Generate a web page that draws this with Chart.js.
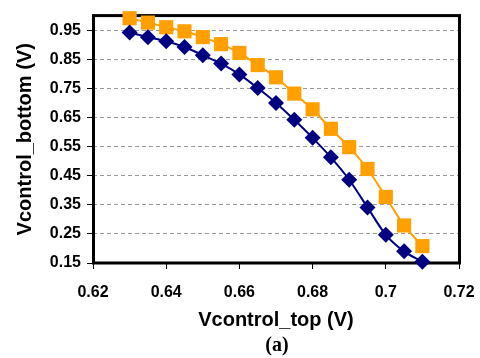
<!DOCTYPE html>
<html>
<head>
<meta charset="utf-8">
<title>Vcontrol_bottom vs Vcontrol_top</title>
<script src="https://cdn.jsdelivr.net/npm/chart.js@4.4.1/dist/chart.umd.min.js"></script>
<style>
    html, body { margin: 0; padding: 0; background: #ffffff; }
    #wrap { width: 480px; height: 358px; }
</style>
</head>
<body>
<div id="wrap"><canvas id="vctrlChart" width="480" height="358"></canvas></div>
<script>
(function() {
    'use strict';

    const vTop = [0.63, 0.635, 0.64, 0.645, 0.65, 0.655, 0.66, 0.665, 0.67, 0.675, 0.68, 0.685, 0.69, 0.695, 0.70, 0.705, 0.71];
    const vBottomDiamond = [0.942, 0.926, 0.912, 0.892, 0.864, 0.835, 0.798, 0.751, 0.700, 0.642, 0.580, 0.513, 0.436, 0.341, 0.247, 0.190, 0.154];
    const vBottomSquare = [0.991, 0.976, 0.960, 0.946, 0.926, 0.902, 0.872, 0.830, 0.788, 0.732, 0.678, 0.611, 0.548, 0.473, 0.377, 0.279, 0.208];
    const xTicks = [0.62, 0.64, 0.66, 0.68, 0.70, 0.72];
    const yTicks = [0.15, 0.25, 0.35, 0.45, 0.55, 0.65, 0.75, 0.85, 0.95];

    function toPoints(values) {
        return vTop.map(function(x, i) {
            return { x: x, y: values[i] };
        });
    }

    // frame round the plot area and the "(a)" caption under the chart
    const framePlugin = {
        id: 'frame',
        beforeDatasetsDraw: function(chart) {
            const a = chart.chartArea;
            const ctx = chart.ctx;
            ctx.save();
            ctx.strokeStyle = '#000000';
            ctx.lineWidth = 3;
            ctx.strokeRect(a.left + 0.5, a.top, a.right - a.left, a.bottom - a.top);
            ctx.restore();
        },
        afterDraw: function(chart) {
            const a = chart.chartArea;
            const ctx = chart.ctx;
            ctx.save();
            ctx.fillStyle = '#000000';
            ctx.font = 'bold 20px "Liberation Serif", "Times New Roman", serif';
            ctx.textAlign = 'center';
            ctx.textBaseline = 'middle';
            ctx.fillText('(a)', (a.left + a.right) / 2 + 1, 346);
            ctx.restore();
        }
    };

    function initChart() {
        const canvas = document.getElementById('vctrlChart');
        if (!canvas || typeof Chart === 'undefined') {
            return;
        }

        const tickFont = { family: '"Liberation Sans", Arial, sans-serif', size: 16, weight: 'bold' };
        const titleFont = { family: '"Liberation Sans", Arial, sans-serif', size: 20, weight: 'bold' };

        new Chart(canvas, {
            type: 'line',
            data: {
                datasets: [{
                    label: 'diamond',
                    data: toPoints(vBottomDiamond),
                    borderColor: '#000080',
                    backgroundColor: '#000080',
                    borderWidth: 2,
                    pointStyle: 'rectRot',
                    pointRadius: 8,
                    pointBorderWidth: 0,
                    tension: 0.3,
                    clip: false,
                    order: 0
                }, {
                    label: 'square',
                    data: toPoints(vBottomSquare),
                    borderColor: '#FF9F00',
                    backgroundColor: '#FF9F00',
                    borderWidth: 2,
                    pointStyle: 'rect',
                    pointRadius: 10,
                    pointBorderWidth: 0,
                    tension: 0.3,
                    clip: false,
                    order: 1
                }]
            },
            options: {
                responsive: false,
                animation: false,
                layout: { padding: { left: 0, right: 21, top: 12, bottom: 0 } },
                plugins: {
                    legend: { display: false },
                    tooltip: { enabled: false }
                },
                scales: {
                    x: {
                        type: 'linear',
                        min: 0.62,
                        max: 0.72,
                        afterBuildTicks: function(scale) {
                            scale.ticks = xTicks.map(function(v) { return { value: v }; });
                        },
                        afterFit: function(scale) {
                            scale.height = 95;
                            scale.paddingLeft = 0;
                            scale.paddingRight = 0;
                        },
                        ticks: {
                            autoSkip: false,
                            maxRotation: 0,
                            padding: 14,
                            color: '#000000',
                            font: tickFont,
                            callback: function(v) { return String(Number(v.toFixed(2))); }
                        },
                        grid: {
                            drawOnChartArea: false,
                            tickLength: 6,
                            tickColor: '#000000',
                            tickWidth: 1
                        },
                        border: { display: false },
                        title: {
                            display: true,
                            text: 'Vcontrol_top (V)',
                            color: '#000000',
                            font: titleFont,
                            padding: { top: 0, bottom: 26 }
                        }
                    },
                    y: {
                        min: 0.15,
                        max: 1.0,
                        afterBuildTicks: function(scale) {
                            scale.ticks = yTicks.map(function(v) { return { value: v }; });
                        },
                        afterFit: function(scale) {
                            scale.width = 93;
                        },
                        ticks: {
                            autoSkip: false,
                            padding: 6,
                            color: '#000000',
                            font: tickFont,
                            callback: function(v) { return v.toFixed(2); }
                        },
                        grid: {
                            color: '#999999',
                            lineWidth: 1,
                            tickLength: 6,
                            tickColor: '#000000',
                            tickWidth: 1,
                            tickBorderDash: []
                        },
                        border: { display: false, dash: [4, 3] },
                        title: {
                            display: true,
                            text: 'Vcontrol_bottom (V)',
                            color: '#000000',
                            font: titleFont,
                            padding: { top: 13, bottom: 0 }
                        }
                    }
                }
            },
            plugins: [framePlugin]
        });
    }

    if (document.readyState === 'loading') {
        document.addEventListener('DOMContentLoaded', initChart);
    } else {
        initChart();
    }
})();
</script>
</body>
</html>
